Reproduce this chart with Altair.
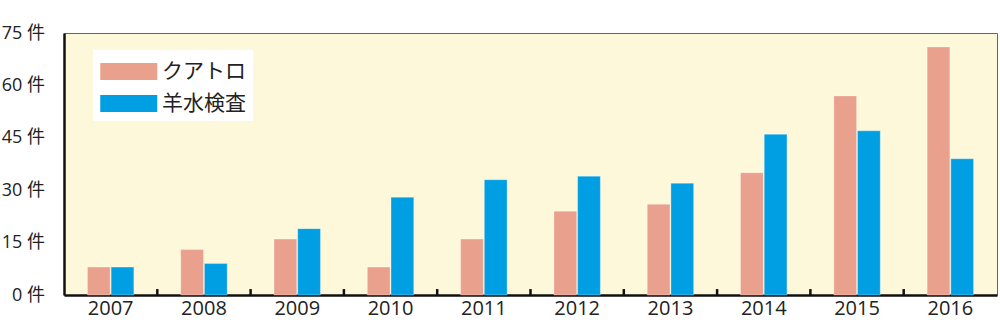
import altair as alt
import pandas as pd

years = ["2007", "2008", "2009", "2010", "2011", "2012", "2013", "2014", "2015", "2016"]
series = ["クアトロ", "羊水検査"]
quattro = [8, 13, 16, 8, 16, 24, 26, 35, 57, 71]
amnio = [8, 9, 19, 28, 33, 34, 32, 46, 47, 39]
colors = ["#E9A08D", "#009FE3"]
y_ticks = [0, 15, 30, 45, 60, 75]

rows = []
for i, y in enumerate(years):
    rows.append({"year": y, "series": series[0], "value": quattro[i]})
    rows.append({"year": y, "series": series[1], "value": amnio[i]})
df = pd.DataFrame(rows)
ticks_df = pd.DataFrame({"year": years[1:], "y0": [0] * 9, "y1": [1.7] * 9})

FONT = "Open Sans, Noto Sans CJK JP"
LFONT = "Noto Sans CJK JP"

xscale = alt.Scale(domain=years, paddingInner=0, paddingOuter=0)
yscale = alt.Scale(domain=[0, 75], nice=False)

bars = alt.Chart(df).mark_bar(stroke="white", strokeWidth=0.6, strokeOpacity=0.5).encode(
    x=alt.X("year:N", scale=xscale, sort=years,
            axis=alt.Axis(title=None, labelAngle=0, labelFontSize=20, labelFont=FONT,
                          labelColor="#222", labelPadding=3, ticks=False,
                          domainColor="#111", domainWidth=2.5)),
    xOffset=alt.XOffset("series:N", sort=series,
                        scale=alt.Scale(paddingInner=0.04, paddingOuter=0.99)),
    y=alt.Y("value:Q", scale=yscale,
            axis=alt.Axis(title=None, values=y_ticks, labelExpr="datum.value + ' 件'",
                          labelFontSize=18, labelFont=FONT, labelColor="#222",
                          ticks=False, grid=False, labelPadding=19.5,
                          domainColor="#111", domainWidth=2.5)),
    color=alt.Color("series:N", sort=series,
                    scale=alt.Scale(domain=series, range=colors),
                    legend=alt.Legend(title=None, orient="none", legendX=29, legendY=17,
                                      fillColor="white", padding=7,
                                      symbolType="M-1,-0.6 L3,-0.6 L3,0.6 L-1,0.6 Z",
                                      symbolSize=812, symbolStrokeWidth=0,
                                      symbolOpacity=1,
                                      labelFontSize=21, labelFont=LFONT, labelColor="#222",
                                      labelOffset=33, rowPadding=7)),
)

tick_marks = alt.Chart(ticks_df).mark_rule(color="#111", strokeWidth=2.5).encode(
    x=alt.X("year:N", scale=xscale, bandPosition=0),
    y=alt.Y("y0:Q", scale=yscale),
    y2="y1:Q",
)

chart = alt.layer(bars, tick_marks).properties(
    width=933, height=262,
    padding={"left": 64, "top": 33, "right": 3, "bottom": 30},
    autosize=alt.AutoSizeParams(type="none"),
    background="white",
).configure_view(
    fill="#FEF8DA", stroke="#666", strokeWidth=1
)

chart.save("out.html", embed_options={"renderer": "svg", "actions": False})
